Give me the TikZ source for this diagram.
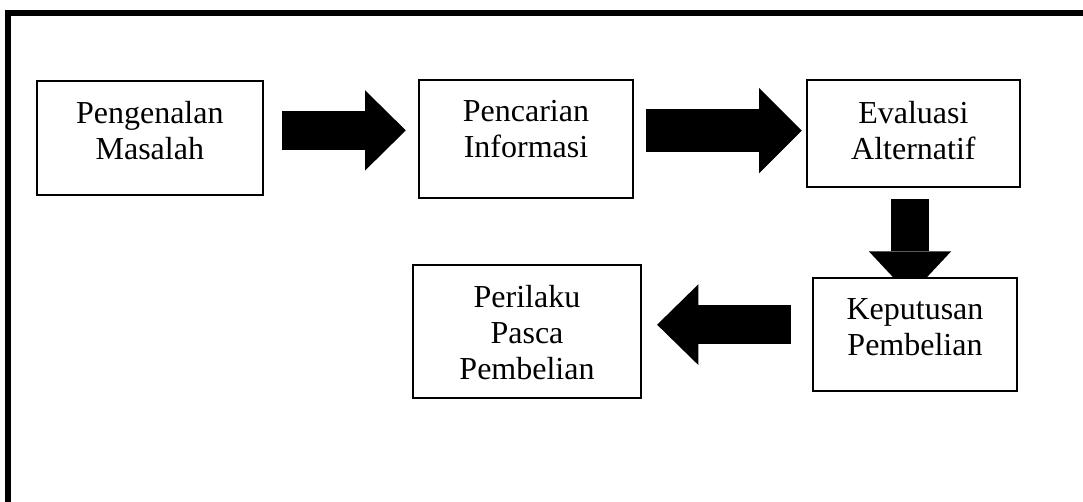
\documentclass[tikz,border=0pt]{standalone}
\usepackage{fontspec}
\setmainfont{Liberation Serif}
\usetikzlibrary{arrows.meta,positioning}
\pgfdeclarelayer{back}
\pgfsetlayers{back,main}
\tikzset{
  stage/.style={draw, line width=1pt, fill=white, inner sep=0pt},
  stagetext/.style={inner sep=0pt, outer sep=0pt, align=center, font=\fontsize{16pt}{18pt}\selectfont},
  bigarrow/.style n args={3}{line width=#1, -{Triangle[length=#2, width=#3, line width=0pt]}}
}

\begin{document}
\begin{tikzpicture}[x=0.5pt,y=-0.5pt]
  \useasboundingbox (0,0) rectangle (1083,502);
  \clip (0,0) rectangle (1083,502);
  \draw[line width=3pt] (8,520) -- (8,13) -- (1100,13); % bingkai

  % kotak tahapan
  \node[stage, minimum width=112.8pt, minimum height=57.2pt] (pm) at (149.8,138.2) {};
  \node[stage, minimum width=106.6pt, minimum height=59.2pt] (pi) at (526,139.2) {};
  \node[stage, minimum width=106.6pt, minimum height=53.6pt] (ea) at (913.4,133.7) {};
  \node[stage, minimum width=102.3pt, minimum height=56.2pt] (kp) at (915,334.5) {};
  \node[stage, minimum width=113.7pt, minimum height=66.4pt] (ppb) at (527,331.4) {};

  \node[stagetext, below=10.5pt of pm.north] (pmtext) {Pengenalan\\Masalah};
  \node[stagetext, below=10.5pt of pi.north] (pitext) {Pencarian\\Informasi};
  \node[stagetext, below=11pt of ea.north] (eatext) {Evaluasi\\Alternatif};
  \node[stagetext, below=10.5pt of kp.north] (kptext) {Keputusan\\Pembelian};
  \node[stagetext, below=10.5pt of ppb.north] (ppbtext) {Perilaku\\Pasca\\Pembelian};

  % panah
  \coordinate (a1) at ([yshift=3.9pt]pm.east);
  \coordinate (a2) at ([yshift=4.3pt]pi.east);
  \coordinate (a3) at ([xshift=-1.7pt]ea.south);
  \coordinate (a4) at ([yshift=4.9pt]kp.west);
  \begin{pgfonlayer}{back}
    \draw[bigarrow={19.5pt}{20.3pt}{40pt}, shorten <=9.2pt, shorten >=6.3pt] (a1) -- (a1 -| pi.west);
    \draw[bigarrow={21.5pt}{21.3pt}{42.5pt}, shorten <=6pt, shorten >=2pt] (a2) -- (a2 -| ea.west);
    \draw[bigarrow={19.3pt}{22pt}{41.2pt}, shorten <=5.5pt, shorten >=-9pt] (a3) -- (a3 |- kp.north);
    \draw[bigarrow={19.5pt}{20.6pt}{40.3pt}, shorten <=10.5pt, shorten >=7.7pt] (a4) -- (a4 -| ppb.east);
  \end{pgfonlayer}
\end{tikzpicture}
\end{document}
